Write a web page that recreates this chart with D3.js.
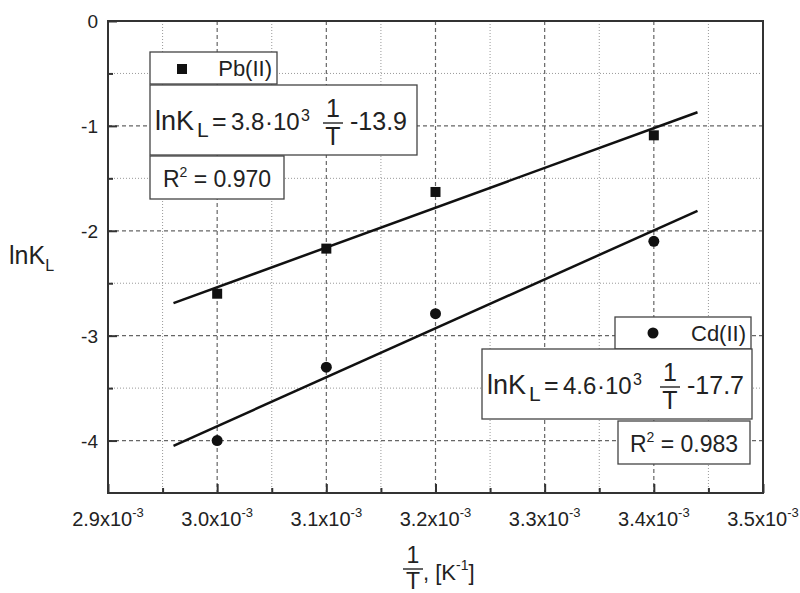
<!DOCTYPE html>
<html lang="en">
<head>
<meta charset="UTF-8">
<title>lnKL vs 1/T</title>
<script src="https://d3js.org/d3.v7.min.js"></script>
<style>
  body { margin: 0; background: #fff; }
  svg { font-family: "Liberation Sans", Arial, sans-serif; fill: #222; }
</style>
</head>
<body>
<div id="chart"></div>
<script>
// data
const invT = [3.0e-3, 3.1e-3, 3.2e-3, 3.4e-3];
const pbLnK = [-2.60, -2.17, -1.63, -1.09];
const cdLnK = [-4.00, -3.30, -2.79, -2.10];
const fitX = [2.96e-3, 3.44e-3];
const pbFit = [-2.69, -0.87];
const cdFit = [-4.05, -1.81];
const xTicks = [2.9e-3, 3.0e-3, 3.1e-3, 3.2e-3, 3.3e-3, 3.4e-3, 3.5e-3];
const xMinor = [2.95e-3, 3.05e-3, 3.15e-3, 3.25e-3, 3.35e-3, 3.45e-3];
const yTicks = [0, -1, -2, -3, -4];
const yMinor = [-0.5, -1.5, -2.5, -3.5];
const pbEq = { slope: "3.8", icpt: "-13.9", r2: "0.970", name: "Pb(II)" };
const cdEq = { slope: "4.6", icpt: "-17.7", r2: "0.983", name: "Cd(II)" };

const width = 800, height = 593;
const svg = d3.select("#chart").append("svg")
    .attr("width", width)
    .attr("height", height);

const x = d3.scaleLinear().domain([2.9e-3, 3.5e-3]).range([108, 763]);
const y = d3.scaleLinear().domain([-4.5, 0]).range([493, 21]);

// grid
const grid = svg.append("g");
grid.selectAll(".gxm").data(xMinor).enter().append("line")
    .attr("x1", d => x(d)).attr("x2", d => x(d))
    .attr("y1", y(0)).attr("y2", y(-4.5))
    .attr("stroke", "#999").attr("stroke-width", 1).attr("stroke-dasharray", "1,2");
grid.selectAll(".gym").data(yMinor).enter().append("line")
    .attr("x1", x(2.9e-3)).attr("x2", x(3.5e-3))
    .attr("y1", d => y(d)).attr("y2", d => y(d))
    .attr("stroke", "#999").attr("stroke-width", 1).attr("stroke-dasharray", "1,2");
grid.selectAll(".gx").data(xTicks.slice(1, -1)).enter().append("line")
    .attr("x1", d => x(d)).attr("x2", d => x(d))
    .attr("y1", y(0)).attr("y2", y(-4.5))
    .attr("stroke", "#666").attr("stroke-width", 1.2).attr("stroke-dasharray", "4,3");
grid.selectAll(".gy").data(yTicks.slice(1)).enter().append("line")
    .attr("x1", x(2.9e-3)).attr("x2", x(3.5e-3))
    .attr("y1", d => y(d)).attr("y2", d => y(d))
    .attr("stroke", "#666").attr("stroke-width", 1.2).attr("stroke-dasharray", "4,3");

// axes (ticks inward)
const xAxis = d3.axisBottom(x).tickValues(xTicks).tickSize(-9).tickFormat("");
const xAxisMinor = d3.axisBottom(x).tickValues(xMinor).tickSize(-5).tickFormat("");
const yAxis = d3.axisLeft(y).tickValues(yTicks).tickSize(-9).tickFormat("");
const yAxisMinor = d3.axisLeft(y).tickValues(yMinor).tickSize(-5).tickFormat("");
[[xAxis, `translate(0,${y(-4.5)})`], [xAxisMinor, `translate(0,${y(-4.5)})`],
 [yAxis, `translate(${x(2.9e-3)},0)`], [yAxisMinor, `translate(${x(2.9e-3)},0)`]].forEach(([ax, tr]) => {
    const g = svg.append("g").attr("transform", tr).call(ax);
    g.select(".domain").remove();
    g.selectAll("line").attr("stroke", "#333").attr("stroke-width", 2);
});

svg.append("rect")
    .attr("x", x(2.9e-3)).attr("y", y(0))
    .attr("width", x(3.5e-3) - x(2.9e-3)).attr("height", y(-4.5) - y(0))
    .attr("fill", "none").attr("stroke", "#333").attr("stroke-width", 2);

// tick labels
const xl = svg.selectAll(".xl").data(xTicks).enter().append("text")
    .attr("x", d => x(d)).attr("y", 526)
    .attr("text-anchor", "middle").attr("font-size", 20);
xl.append("tspan").text(d => d3.format(".1f")(d * 1e3) + "x10");
xl.append("tspan").attr("font-size", 13).attr("dy", -9).text("-3");

svg.selectAll(".yl").data(yTicks).enter().append("text")
    .attr("x", 98).attr("y", d => y(d) + 7)
    .attr("text-anchor", "end").attr("font-size", 19)
    .text(d => String(d));

// axis titles
const yt = svg.append("text").attr("x", 9).attr("y", 264).attr("font-size", 25);
yt.append("tspan").text("lnK");
yt.append("tspan").attr("font-size", 16).attr("dy", 7).text("L");

function fraction(cx, lineY, fs, half) {
    const g = svg.append("g");
    g.append("text").attr("x", cx).attr("y", lineY - 6).attr("text-anchor", "middle")
        .attr("font-size", fs).text("1");
    g.append("line").attr("x1", cx - half).attr("x2", cx + half)
        .attr("y1", lineY).attr("y2", lineY).attr("stroke", "#222").attr("stroke-width", 1.4);
    g.append("text").attr("x", cx).attr("y", lineY + fs * 0.88).attr("text-anchor", "middle")
        .attr("font-size", fs).text("T");
}
fraction(413, 569, 23, 10);
const xt = svg.append("text").attr("x", 423).attr("y", 580).attr("font-size", 22);
xt.append("tspan").text(", [K");
xt.append("tspan").attr("font-size", 14).attr("dy", -10).text("-1");
xt.append("tspan").attr("dy", 10).text("]");

// fit lines
const line = d3.line().x(d => x(d[0])).y(d => y(d[1]));
[pbFit, cdFit].forEach(f => {
    svg.append("path").datum(fitX.map((v, i) => [v, f[i]]))
        .attr("d", line).attr("fill", "none").attr("stroke", "#111").attr("stroke-width", 2.5);
});

// points
svg.selectAll(".pb").data(invT).enter().append("rect")
    .attr("x", d => x(d) - 5).attr("y", (d, i) => y(pbLnK[i]) - 5)
    .attr("width", 10).attr("height", 10).attr("fill", "#111");
svg.selectAll(".cd").data(invT).enter().append("circle")
    .attr("cx", d => x(d)).attr("cy", (d, i) => y(cdLnK[i]))
    .attr("r", 5.5).attr("fill", "#111");

// annotation boxes
function box(x0, y0, w, h) {
    svg.append("rect").attr("x", x0).attr("y", y0).attr("width", w).attr("height", h)
        .attr("fill", "#fff").attr("stroke", "#444").attr("stroke-width", 1.3);
}

function legend(x0, y0, w, eq, marker) {
    box(x0, y0, w, 32);
    if (marker === "square") {
        svg.append("rect").attr("x", x0 + 27).attr("y", y0 + 12).attr("width", 10).attr("height", 10).attr("fill", "#111");
    } else {
        svg.append("circle").attr("cx", x0 + 38).attr("cy", y0 + 16).attr("r", 5.5).attr("fill", "#111");
    }
    svg.append("text").attr("x", x0 + w - 5).attr("y", y0 + 24).attr("text-anchor", "end")
        .attr("font-size", 22).text(eq.name);
}

function equation(x0, y0, w, eq, shift) {
    box(x0, y0, w, 70);
    const base = y0 + 45;
    const put = (dx, dy, fs, s, anchor) => svg.append("text")
        .attr("x", x0 + dx).attr("y", base + dy).attr("font-size", fs)
        .attr("text-anchor", anchor || "start").text(s);
    put(5, 0, 27, "lnK");
    put(47, 7, 21, "L");
    put(62, 0, 25, "=");
    put(81, 0, 24, eq.slope);
    put(119, 0, 24, "\u00b7", "middle");
    put(123, 0, 24, "10");
    put(151, -9, 16, "3");
    fraction(x0 + 183 + shift, y0 + 38, 25, 10);
    put(200 + shift, 0, 25, eq.icpt);
}

function r2(x0, y0, w, eq) {
    box(x0, y0, w, 43);
    const t = svg.append("text").attr("x", x0 + w / 2).attr("y", y0 + 31)
        .attr("text-anchor", "middle").attr("font-size", 23);
    t.append("tspan").text("R");
    t.append("tspan").attr("font-size", 14).attr("dy", -10).text("2");
    t.append("tspan").attr("dy", 10).text(" = " + eq.r2);
}

legend(150, 52, 127, pbEq, "square");
r2(150, 156, 134, pbEq);
equation(150, 85, 267, pbEq, 0);

legend(615, 317, 136, cdEq, "circle");
r2(618, 421, 132, cdEq);
equation(482, 349, 270, cdEq, 5);
</script>
</body>
</html>
